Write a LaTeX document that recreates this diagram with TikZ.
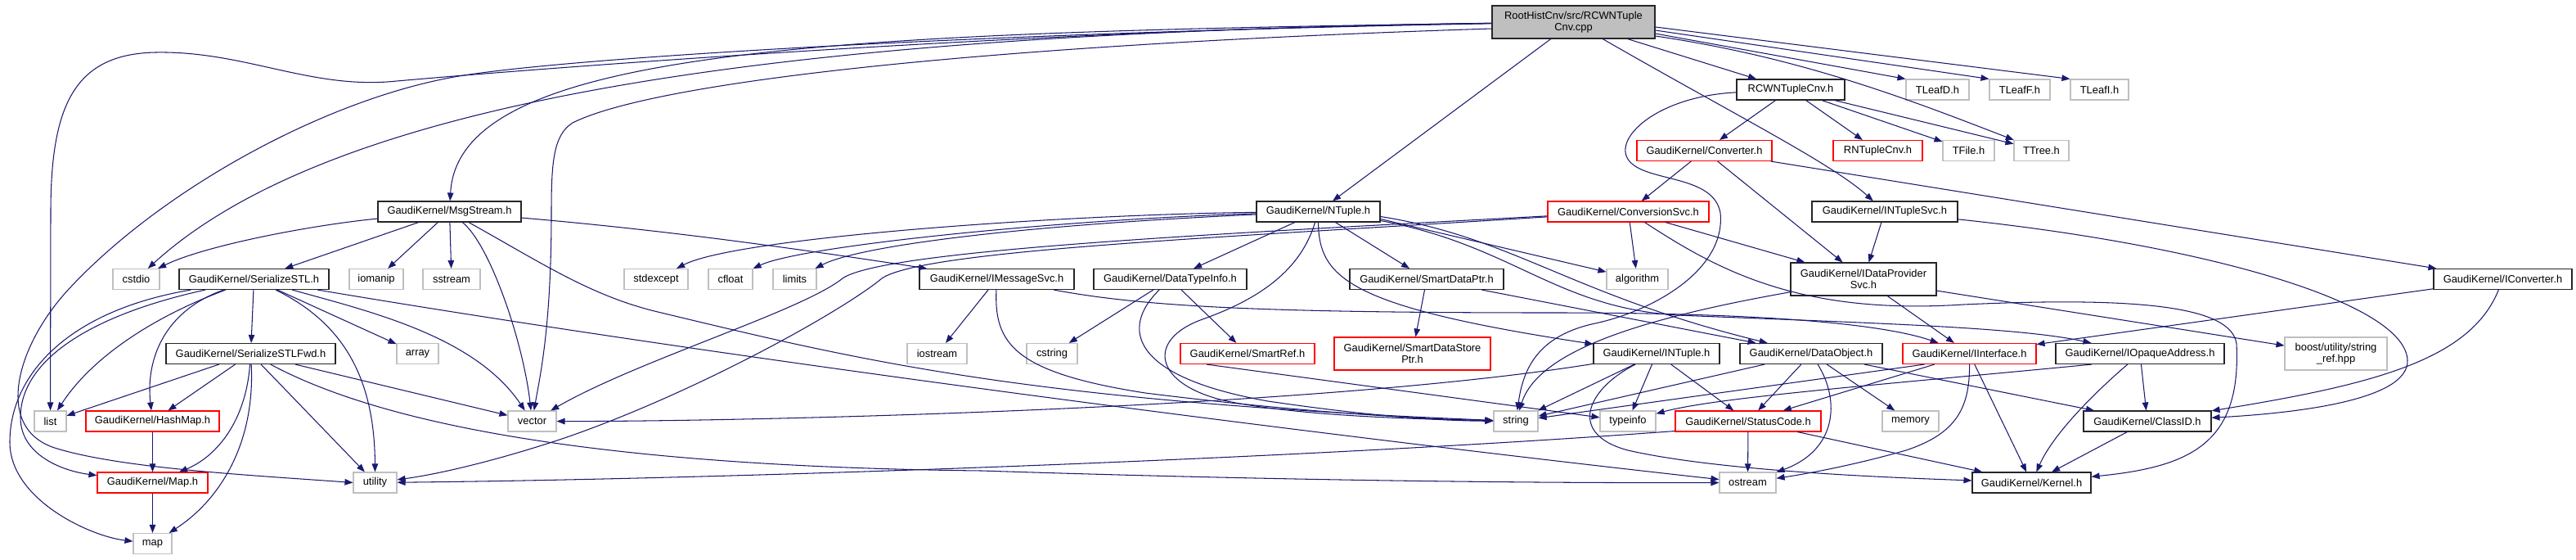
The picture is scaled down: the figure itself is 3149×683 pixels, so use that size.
\documentclass[tikz,border=0pt]{standalone}
\usepackage{fontspec}
\setmainfont{Liberation Sans}
\usetikzlibrary{arrows.meta}
\definecolor{edgec}{HTML}{191970}
\definecolor{sysgray}{HTML}{BFBFBF}
\definecolor{rootfill}{HTML}{BFBFBF}
\tikzset{
  gbox/.style={draw, line width=1.1pt, inner sep=0pt, minimum height=25pt, align=center, fill=white, font=\fontsize{12.9}{14.5}\selectfont},
  blk/.style={gbox, draw=black!85},
  redb/.style={gbox, draw=red},
  sys/.style={gbox, draw=sysgray},
  rootbox/.style={gbox, draw=black!85, fill=rootfill},
  dep/.style={draw=edgec, line width=1.05pt, -{Triangle[length=10pt,width=7.5pt]}},
}
\begin{document}
\begin{tikzpicture}[x=1pt, y=-1pt]
\fill[white] (0,0) rectangle (3149,683);
\useasboundingbox (0,0) rectangle (3149,683);
% nodes
\node[rootbox, minimum width=199pt, minimum height=40pt] (root) at (1923.5,27) {RootHistCnv/src/RCWNTuple\\Cnv.cpp};
\node[blk, minimum width=132pt] (rcwh) at (2189,109.5) {RCWNTupleCnv.h};
\node[sys, minimum width=77pt] (tleafd) at (2368.5,109.5) {TLeafD.h};
\node[sys, minimum width=74pt] (tleaff) at (2469,109.5) {TLeafF.h};
\node[sys, minimum width=71pt] (tleafi) at (2566.5,109.5) {TLeafI.h};
\node[redb, minimum width=165pt] (conv) at (2083.5,184) {GaudiKernel/Converter.h};
\node[redb, minimum width=109pt] (rntuple) at (2295.5,184) {RNTupleCnv.h};
\node[sys, minimum width=63pt] (tfile) at (2406.5,184) {TFile.h};
\node[sys, minimum width=67pt] (ttree) at (2495.5,184) {TTree.h};
\node[blk, minimum width=175pt] (msgstream) at (549.5,258.5) {GaudiKernel/MsgStream.h};
\node[blk, minimum width=151pt] (ntuple) at (1611.5,258.5) {GaudiKernel/NTuple.h};
\node[redb, minimum width=197pt] (convsvc) at (1990.5,258.5) {GaudiKernel/ConversionSvc.h};
\node[blk, minimum width=178pt] (intuplesvc) at (2304,258.5) {GaudiKernel/INTupleSvc.h};
\node[sys, minimum width=57pt] (cstdio) at (166.5,341) {cstdio};
\node[blk, minimum width=183pt] (serstl) at (310.5,341) {GaudiKernel/SerializeSTL.h};
\node[sys, minimum width=66pt] (iomanip) at (460,341) {iomanip};
\node[sys, minimum width=70pt] (sstream) at (552,341) {sstream};
\node[sys, minimum width=78pt] (stdexcept) at (802,341) {stdexcept};
\node[sys, minimum width=54pt] (cfloat) at (893,341) {cfloat};
\node[sys, minimum width=53pt] (limits) at (971.5,341) {limits};
\node[blk, minimum width=189pt] (imsgsvc) at (1218.5,341) {GaudiKernel/IMessageSvc.h};
\node[blk, minimum width=187pt] (dtinfo) at (1430.5,341) {GaudiKernel/DataTypeInfo.h};
\node[blk, minimum width=188pt] (sdptr) at (1744,341) {GaudiKernel/SmartDataPtr.h};
\node[sys, minimum width=75pt] (algorithm) at (2001.5,341) {algorithm};
\node[blk, minimum width=178pt, minimum height=40pt] (idps) at (2278,341) {GaudiKernel/IDataProvider\\Svc.h};
\node[blk, minimum width=169pt] (iconverter) at (3059.5,341) {GaudiKernel/IConverter.h};
\node[blk, minimum width=207pt] (serfwd) at (306.5,432) {GaudiKernel/SerializeSTLFwd.h};
\node[sys, minimum width=51pt] (array) at (510.5,432) {array};
\node[sys, minimum width=73pt] (iostream) at (1145.5,432) {iostream};
\node[sys, minimum width=62pt] (cstring) at (1286,432) {cstring};
\node[redb, minimum width=164pt] (smartref) at (1525,432) {GaudiKernel/SmartRef.h};
\node[redb, minimum width=191pt, minimum height=40pt] (sdsptr) at (1726.5,432) {GaudiKernel/SmartDataStore\\Ptr.h};
\node[blk, minimum width=154pt] (intuple) at (2025,432) {GaudiKernel/INTuple.h};
\node[blk, minimum width=174pt] (dataobj) at (2214,432) {GaudiKernel/DataObject.h};
\node[redb, minimum width=163pt] (iinterface) at (2407.5,432) {GaudiKernel/IInterface.h};
\node[blk, minimum width=206pt] (iopaque) at (2616,432) {GaudiKernel/IOpaqueAddress.h};
\node[sys, minimum width=125pt, minimum height=40pt] (boost) at (2855.5,432) {boost/utility/string\\\_ref.hpp};
\node[sys, minimum width=39pt] (list) at (61.5,514.5) {list};
\node[redb, minimum width=163pt] (hashmap) at (186.5,514.5) {GaudiKernel/HashMap.h};
\node[sys, minimum width=59pt] (vector) at (650.5,514.5) {vector};
\node[sys, minimum width=54pt] (string) at (1853,514.5) {string};
\node[sys, minimum width=68pt] (typeinfo) at (1990,514.5) {typeinfo};
\node[redb, minimum width=178pt] (statuscode) at (2137,514.5) {GaudiKernel/StatusCode.h};
\node[sys, minimum width=69pt] (memory) at (2335.5,514.5) {memory};
\node[blk, minimum width=156pt] (classid) at (2625,514.5) {GaudiKernel/ClassID.h};
\node[redb, minimum width=135pt] (mapred) at (186.5,589.5) {GaudiKernel/Map.h};
\node[sys, minimum width=53pt] (utility) at (458.5,589.5) {utility};
\node[sys, minimum width=69pt] (ostream) at (2136.5,589.5) {ostream};
\node[blk, minimum width=145pt] (kernel) at (2483.5,589.5) {GaudiKernel/Kernel.h};
\node[sys, minimum width=47pt] (map) at (186.5,664) {map};

% root edges
\draw[dep] (root) -- (ntuple);
\draw[dep] (root) .. controls (1000,40) and (560,60) .. (msgstream);
\draw[dep] (root) .. controls (1000,40) and (420,110) .. (cstdio);
\draw[dep] (root) .. controls (1300,35) and (700,80) .. (485,99) .. controls (380,110) and (300,62) .. (190,64) .. controls (90,66) and (62,130) .. (62,260) -- (list);
\draw[dep] (root) .. controls (1200,40) and (700,70) .. (561,93) .. controls (400,120) and (200,230) .. (87,350) .. controls (20,420) and (-10,525) .. (70,548) .. controls (150,572) and (300,580) .. (utility.west);
\draw[dep] ([yshift=-8pt]root.west) .. controls (1200,55) and (800,100) .. (700,150) .. controls (676,165) and (674,200) .. (674,260) .. controls (674,400) and (660,460) .. (vector);
\draw[dep] (root) -- (rcwh);
\draw[dep] (root) .. controls (2120,140) and (2240,200) .. (intuplesvc);
\draw[dep] ([yshift=-14pt]root.east) -- (tleafd.north west);
\draw[dep] ([yshift=-10pt]root.east) -- (tleaff.north west);
\draw[dep] ([yshift=-6pt]root.east) -- (tleafi.north west);
\draw[dep] ([yshift=-17pt]root.east) .. controls (2200,70) and (2330,120) .. (ttree);
% RCWNTupleCnv.h
\draw[dep] (rcwh) -- (conv);
\draw[dep] (rcwh) -- (rntuple);
\draw[dep] (rcwh) -- (tfile);
\draw[dep] (rcwh) -- (ttree);
\draw[dep] (rcwh) .. controls (2020,118) and (1965,175) .. (1995,200) .. controls (2020,222) and (2095,215) .. (2103,260) .. controls (2110,330) and (2020,380) .. (1950,395) .. controls (1880,410) and (1862,450) .. (string);
% Converter.h
\draw[dep] (conv) -- (convsvc);
\draw[dep] (conv) -- (idps);
\draw[dep] (conv) -- (iconverter);
% ConversionSvc.h
\draw[dep] (convsvc) -- (algorithm);
\draw[dep] (convsvc) -- (idps);
\draw[dep] (convsvc) .. controls (2100,330) and (2200,385) .. (2400,372) .. controls (2620,362) and (2728,375) .. (2734,420) .. controls (2740,540) and (2680,570) .. (kernel);
\draw[dep] (convsvc) .. controls (1500,285) and (1080,305) .. (1030,340) .. controls (980,380) and (780,440) .. (vector);
\draw[dep] (convsvc) .. controls (1500,290) and (1130,305) .. (1078,340) .. controls (1030,380) and (850,480) .. (690,535) .. controls (600,565) and (530,580) .. (utility);
% NTuple.h
\draw[dep] (ntuple) .. controls (1300,262) and (900,290) .. (stdexcept);
\draw[dep] (ntuple) .. controls (1300,268) and (980,300) .. (cfloat);
\draw[dep] (ntuple) .. controls (1250,275) and (1050,300) .. (limits);
\draw[dep] (ntuple) -- (dtinfo);
\draw[dep] (ntuple) -- (sdptr);
\draw[dep] ([yshift=-9pt]ntuple.east) -- (algorithm);
\draw[dep] (ntuple) .. controls (1612,340) and (1650,375) .. (intuple);
\draw[dep] (ntuple) .. controls (1590,330) and (1540,365) .. (1470,390) .. controls (1400,415) and (1410,470) .. (1500,490) .. controls (1600,510) and (1750,512) .. (string);
\draw[dep] ([yshift=-6pt]ntuple.east) .. controls (1850,290) and (1920,360) .. (dataobj);
\draw[dep] ([yshift=-11pt]ntuple.east) .. controls (1850,300) and (1900,375) .. (2050,385) .. controls (2300,395) and (2470,400) .. (iopaque);
% INTupleSvc.h
\draw[dep] (intuplesvc) -- (idps);
\draw[dep] (intuplesvc) .. controls (2700,300) and (2940,370) .. (2943,440) .. controls (2945,490) and (2800,505) .. (classid);
% MsgStream.h
\draw[dep] (msgstream) .. controls (380,275) and (250,300) .. (cstdio);
\draw[dep] (msgstream) -- (serstl);
\draw[dep] (msgstream) -- (iomanip);
\draw[dep] (msgstream) -- (sstream);
\draw[dep] (msgstream) .. controls (600,300) and (640,420) .. (vector);
\draw[dep] (msgstream) .. controls (660,320) and (720,360) .. (800,380) .. controls (1050,440) and (1250,490) .. (string);
\draw[dep] (msgstream) .. controls (800,280) and (950,300) .. (imsgsvc);
% SerializeSTL.h
\draw[dep] (serstl) -- (serfwd);
\draw[dep] (serstl) -- (array);
\draw[dep] (serstl) .. controls (410,390) and (458,450) .. (utility);
\draw[dep] (serstl) .. controls (450,380) and (580,410) .. (vector);
\draw[dep] (serstl) .. controls (900,440) and (1600,530) .. (ostream);
\draw[dep] (serstl) .. controls (180,390) and (110,440) .. (list);
\draw[dep] (serstl) .. controls (200,380) and (178,440) .. (hashmap);
\draw[dep] (serstl) .. controls (110,385) and (25,440) .. (25,510) .. controls (25,555) and (75,575) .. (mapred);
\draw[dep] (serstl) .. controls (80,380) and (12,460) .. (12,540) .. controls (12,610) and (110,655) .. (map);
% IMessageSvc.h
\draw[dep] (imsgsvc) -- (iostream);
\draw[dep] (imsgsvc) .. controls (1215,420) and (1240,455) .. (1400,480) .. controls (1600,505) and (1750,512) .. (string);
\draw[dep] (imsgsvc) .. controls (1400,375) and (1550,382) .. (1900,382) .. controls (2150,382) and (2300,395) .. (iinterface);
% DataTypeInfo.h
\draw[dep] (dtinfo) -- (cstring);
\draw[dep] (dtinfo) -- (smartref);
\draw[dep] (dtinfo) .. controls (1370,400) and (1380,460) .. (1550,490) .. controls (1700,512) and (1780,514) .. (string);
% SmartDataPtr.h
\draw[dep] (sdptr) -- (sdsptr);
\draw[dep] (sdptr) -- (dataobj);
% IDataProviderSvc.h
\draw[dep] (idps) -- (iinterface);
\draw[dep] (idps) -- (boost);
\draw[dep] (idps) .. controls (2000,390) and (1880,430) .. (string);
% IConverter.h
\draw[dep] (iconverter) -- (iinterface);
\draw[dep] (iconverter) .. controls (3020,440) and (2900,470) .. (classid);
% SerializeSTLFwd.h
\draw[dep] (serfwd) -- (list);
\draw[dep] (serfwd) -- (hashmap);
\draw[dep] (serfwd) .. controls (300,520) and (260,560) .. (mapred);
\draw[dep] (serfwd) .. controls (312,540) and (270,610) .. (map);
\draw[dep] (serfwd) -- (utility);
\draw[dep] (serfwd) -- (vector);
\draw[dep] (serfwd) .. controls (470,520) and (740,570) .. (1200,575) .. controls (1600,588) and (1900,590) .. (ostream);
% SmartRef.h
\draw[dep] ([xshift=-50pt]smartref.south) -- (typeinfo);
% INTuple.h
\draw[dep] (intuple) .. controls (1600,500) and (900,515) .. (vector);
\draw[dep] (intuple) -- (string);
\draw[dep] (intuple) -- (typeinfo);
\draw[dep] (intuple) -- (statuscode);
\draw[dep] (intuple) .. controls (1940,475) and (1915,530) .. (1990,550) .. controls (2100,575) and (2300,583) .. (kernel);
% DataObject.h
\draw[dep] (dataobj) -- (string);
\draw[dep] (dataobj) -- (statuscode);
\draw[dep] (dataobj) .. controls (2250,490) and (2245,550) .. (ostream);
\draw[dep] (dataobj) -- (memory);
\draw[dep] (dataobj) -- (classid);
% IInterface.h
\draw[dep] ([xshift=-55pt]iinterface.south) -- (string);
\draw[dep] (iinterface) -- (statuscode);
\draw[dep] (iinterface) -- (kernel);
\draw[dep] (iinterface) .. controls (2408,500) and (2390,530) .. (2330,550) .. controls (2260,570) and (2200,580) .. (ostream);
% IOpaqueAddress.h
\draw[dep] (iopaque) -- (classid);
\draw[dep] (iopaque) .. controls (2560,480) and (2510,530) .. (kernel);
\draw[dep] ([xshift=-59pt]iopaque.south) .. controls (2300,470) and (2100,485) .. (typeinfo);
% StatusCode.h
\draw[dep] (statuscode) -- (ostream);
\draw[dep] (statuscode) -- (kernel);
\draw[dep] ([yshift=-12pt]statuscode.west) .. controls (1600,560) and (900,585) .. (utility);
% others
\draw[dep] (classid) -- (kernel);
\draw[dep] (hashmap) -- (mapred);
\draw[dep] (mapred) -- (map);
\end{tikzpicture}
\end{document}
